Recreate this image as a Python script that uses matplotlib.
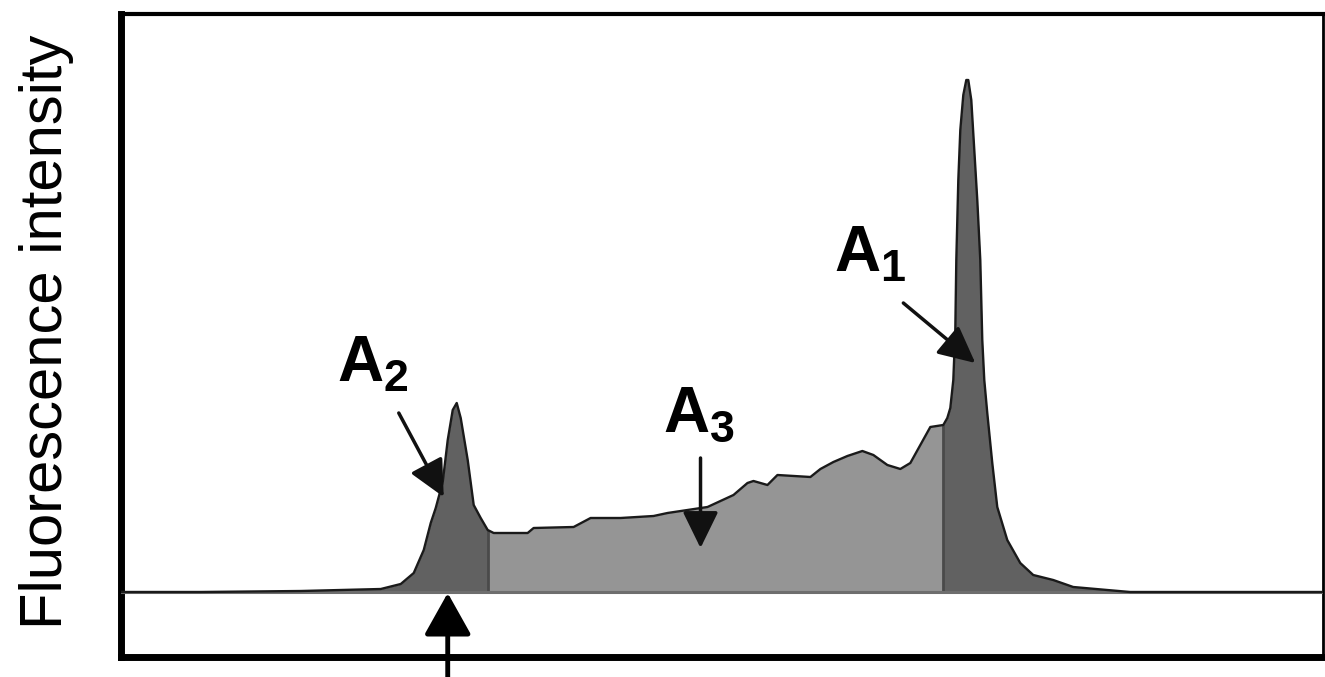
import numpy as np
import matplotlib
matplotlib.use("Agg")
import matplotlib.pyplot as plt

plt.rcParams['font.family'] = ['Liberation Sans', 'DejaVu Sans']
plt.rcParams['mathtext.fontset'] = 'custom'
plt.rcParams['mathtext.rm'] = 'Liberation Sans'
plt.rcParams['mathtext.bf'] = 'Liberation Sans:bold'

# profile: position (a.u.) and fluorescence intensity (a.u.)
position = np.array([0, 80, 180, 260, 280, 293, 303, 310, 315, 322, 327, 332, 336,
                     340, 347, 353, 360, 367,
                     373, 407, 413, 453, 470, 500, 533, 547, 587, 613, 627, 633,
                     647, 657, 690, 700, 713, 727, 742, 753, 767, 780, 790, 800, 810,
                     823,
                     827, 830, 833, 835, 836, 838, 840, 843, 846, 848, 851, 854, 857,
                     860, 862, 864, 867, 872, 877, 887, 900, 913, 933, 953, 987, 1010,
                     1203])
intensity = np.array([0, 0, 1, 3, 8, 19, 42, 69, 84, 110, 152, 182, 189,
                      174, 132, 87, 74, 62,
                      59, 59, 64, 65, 74, 74, 76, 79, 85, 97, 109, 111,
                      107, 117, 115, 123, 130, 136, 141, 137, 127, 123, 129, 147, 165,
                      167,
                      174, 184, 212, 262, 332, 412, 462, 497, 512, 512, 492, 442, 392,
                      332, 252, 212, 179, 129, 85, 52, 29, 17, 12, 5, 2, 0,
                      0])

# borders between the peak areas A2 | A3 | A1
cut_left = 367
cut_right = 823

fig = plt.figure(figsize=(13.25, 6.77), dpi=100)
ax = fig.add_axes([121 / 1325, 20 / 677, 1202 / 1325, 643 / 677])

dark = '#616161'
light = '#959595'
ax.fill_between(position, 0, intensity, where=position <= cut_left,
                color=dark, lw=0)
ax.fill_between(position, 0, intensity,
                where=(position >= cut_left) & (position <= cut_right),
                color=light, lw=0)
ax.fill_between(position, 0, intensity, where=position >= cut_right,
                color=dark, lw=0)

i_l = np.where(position == cut_left)[0][0]
i_r = np.where(position == cut_right)[0][0]
ax.vlines([cut_left, cut_right], 0, [intensity[i_l], intensity[i_r]],
          color='#4a4a4a', lw=2)

ax.axhline(0, color='#6e6e6e', lw=2.2, zorder=3)
ax.plot(position, intensity, color='#1a1a1a', lw=1.7, zorder=4)

ax.set_xlim(0, 1203)
ax.set_ylim(-65, 578)
ax.set_xticks([])
ax.set_yticks([])
ax.spines['left'].set_linewidth(5)
ax.spines['bottom'].set_linewidth(5)
ax.spines['top'].set_linewidth(3)
ax.spines['right'].set_linewidth(2)

labels = [r'$\mathbf{A}_{\mathbf{1}}$', r'$\mathbf{A}_{\mathbf{2}}$',
          r'$\mathbf{A}_{\mathbf{3}}$']
label_pos = [(714, 368), (216, 258), (542, 208)]
arrow_tail = [(783, 289), (278, 179), (580, 134)]
arrow_tip = [(855, 229), (323, 95), (580, 44)]

for lab, (lx, ly) in zip(labels, label_pos):
    ax.text(lx, ly, lab, fontsize=46, ha='left', va='top', zorder=6)

for tail, tip in zip(arrow_tail, arrow_tip):
    ax.annotate('', xy=tip, xytext=tail,
                arrowprops=dict(arrowstyle='-|>,head_length=0.45,head_width=0.22',
                                mutation_scale=50, lw=2.5, color='#111111',
                                shrinkA=0, shrinkB=0), zorder=7)

# marker below the axis pointing at A2
ax.annotate('', xy=(327, -1), xytext=(327, -100),
            arrowprops=dict(arrowstyle='-|>,head_length=0.5,head_width=0.28',
                            mutation_scale=52, lw=3.5, color='black',
                            shrinkA=0, shrinkB=0),
            annotation_clip=False, zorder=8)

fig.text(47 / 1325, 0.51, 'Fluorescence intensity', rotation=90,
         fontsize=43, ha='center', va='center')

fig.savefig('out.png', dpi=100)
